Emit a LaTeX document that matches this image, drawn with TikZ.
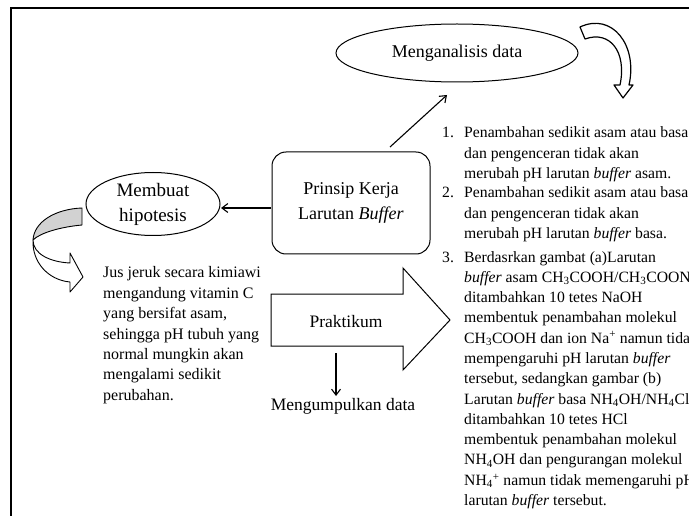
\documentclass[tikz,border=0pt]{standalone}
\usepackage{fontspec}
\setmainfont{Liberation Serif}
\usetikzlibrary{arrows.meta,shapes.geometric}
\begin{document}
\begin{tikzpicture}[x=1pt,y=-1pt,
  arr/.style={-{Straight Barb[length=6pt,width=9pt]},line width=1.1pt},
  lbl/.style={font=\fontsize{18}{25}\selectfont, align=center},
  body/.style={inner sep=0pt, anchor=base west},
  bodyfont/.style={font=\fontsize{15.7}{20.3}\selectfont},
  leftfont/.style={font=\fontsize{16}{20.4}\selectfont},
  blockline/.style={line width=1pt}]
\useasboundingbox (0,0) rectangle (689,516);
\clip (0,0) rectangle (689,516);
\fill[white] (0,0) rectangle (689,516);
% frame
\draw[line width=2.4pt] (11,516) -- (11,8) -- (689,8);

% nodes
\node[ellipse, draw, line width=1pt, minimum width=242pt, minimum height=58pt, lbl] (ana) at (457,53) {Menganalisis data};
\node[ellipse, draw, line width=1pt, minimum width=134pt, minimum height=63pt, lbl, inner sep=0pt, font=\fontsize{19}{25}\selectfont] (hip) at (153,204) {Membuat\\hipotesis};
\node[draw, rounded corners=14pt, line width=1pt, minimum width=158pt, minimum height=102pt, lbl] (box) at (351,203) {Prinsip Kerja\\Larutan \textit{Buffer}};

% block arrow Praktikum
\draw[blockline] (271,294) -- (403,294) -- (403,268) -- (450,320) -- (403,370) -- (403,346) -- (271,346) -- cycle;
\node[inner sep=0pt, anchor=base, font=\fontsize{17.5}{22}\selectfont] (prak) at (346,327) {Praktikum};
\node[inner sep=0pt, anchor=base, font=\fontsize{17.5}{22}\selectfont] (kumpul) at (343,410) {Mengumpulkan data};
\coordinate (pb) at (336,353);
\coordinate (pe) at (336,396);
\draw[arr] (pb) -- (pe);

% connectors
\coordinate (bs) at (390,147);
\coordinate (ae) at (447,95);
\draw[arr] (bs) -- (ae);
\coordinate (bw) at (271,208);
\coordinate (he) at (221,208);
\draw[arr] (bw) -- (he);

% top-right curved arrow
\draw[fill=white, line width=1.2pt, line join=round] (580,27) .. controls (612,12) and (638,45) .. (629,85) -- (633,85) -- (623,98) -- (614,85) -- (620,85) .. controls (627,52) and (610,30) .. (585,39) -- cycle;

% left curved arrow
\draw[fill=gray!35, line width=0.9pt, line join=round] (82,208) .. controls (55,209) and (34,222) .. (33,240) .. controls (40,233) and (60,227) .. (82,225) -- cycle;
\draw[fill=white, line width=0.9pt, line join=round] (33,240) .. controls (33,254) and (50,262) .. (70,263) -- (70,253) -- (83,277) -- (70,292) -- (70,282) .. controls (48,280) and (32,262) .. (33,240) -- cycle;

% left text
\node[body, leftfont] (jus) at (103,278) {\parbox[t]{200pt}{\raggedright
Jus jeruk secara kimiawi\\
mengandung vitamin C\\
yang bersifat asam,\\
sehingga pH tubuh yang\\
normal mungkin akan\\
mengalami sedikit\\
perubahan.}};

% numbered list
\node[body, bodyfont] (n1) at (442,138) {1.};
\node[body, bodyfont] (n2) at (442,198) {2.};
\node[body, bodyfont] (n3) at (442,262) {3.};
\node[body, bodyfont] (t1) at (464,138) {\parbox[t]{320pt}{\raggedright
Penambahan sedikit asam atau basa\\
dan pengenceran tidak akan\\
merubah pH larutan \textit{buffer} asam.}};
\node[body, bodyfont] (t2) at (464,198) {\parbox[t]{320pt}{\raggedright
Penambahan sedikit asam atau basa\\
dan pengenceran tidak akan\\
merubah pH larutan \textit{buffer} basa.}};
\node[body, bodyfont] (t3) at (464,262) {\parbox[t]{320pt}{\raggedright
Berdasrkan gambat (a)Larutan\\
\textit{buffer} asam CH\textsubscript{3}COOH/CH\textsubscript{3}COONa\\
ditambahkan 10 tetes NaOH\\
membentuk penambahan molekul\\
CH\textsubscript{3}COOH dan ion Na\textsuperscript{+} namun tidak\\
mempengaruhi pH larutan \textit{buffer}\\
tersebut, sedangkan gambar (b)\\
Larutan \textit{buffer} basa NH\textsubscript{4}OH/NH\textsubscript{4}Cl\\
ditambahkan 10 tetes HCl\\
membentuk penambahan molekul\\
NH\textsubscript{4}OH dan pengurangan molekul\\
NH\textsubscript{4}\textsuperscript{+} namun tidak memengaruhi pH\\
larutan \textit{buffer} tersebut.}};
\end{tikzpicture}
\end{document}
